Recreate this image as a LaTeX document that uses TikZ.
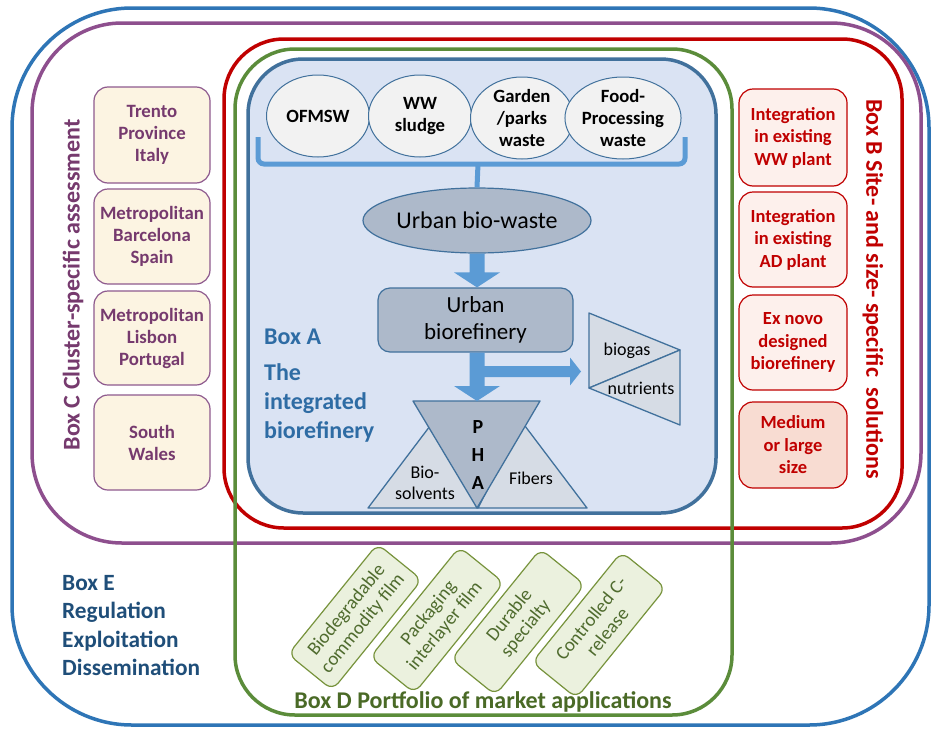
\documentclass[tikz,border=0pt]{standalone}
\usepackage{fontspec}
\setmainfont{Carlito}
\usetikzlibrary{shapes.geometric,calc}
\definecolor{outerblue}{HTML}{2E75B6}
\definecolor{purp}{HTML}{8E4F8E}
\definecolor{dred}{HTML}{C00000}
\definecolor{grn}{HTML}{5B8C3A}
\definecolor{boxastroke}{HTML}{41719C}
\definecolor{boxafill}{HTML}{DAE3F3}
\definecolor{midgray}{HTML}{ADB9CA}
\definecolor{lightgb}{HTML}{D6DCE5}
\definecolor{srcfill}{HTML}{F2F2F2}
\definecolor{arrowblue}{HTML}{5B9BD5}
\definecolor{boxatext}{HTML}{2E6CA4}
\definecolor{boxetext}{HTML}{1F4E79}
\definecolor{cfill}{HTML}{FCF4E2}
\definecolor{cstroke}{HTML}{8E5A8E}
\definecolor{ctext}{HTML}{763A6E}
\definecolor{bfill}{HTML}{FDF0EC}
\definecolor{bfilldark}{HTML}{F8DCD2}
\definecolor{dfill}{HTML}{EBF1DE}
\definecolor{dstroke}{HTML}{77933C}
\definecolor{dtext}{HTML}{4F6B2E}
\definecolor{dlabel}{HTML}{4A6A26}
\begin{document}
\begin{tikzpicture}[x=1pt,y=-1pt,
  bigframe/.style={draw, line width=3.5pt, rounded corners=#1, inner sep=0pt, fill=none},
  cbox/.style={draw=cstroke, fill=cfill, line width=1.2pt, rounded corners=14pt, minimum width=116pt, minimum height=95pt, align=center, text=ctext, font=\fontsize{18.8}{22}\selectfont\bfseries, inner sep=0pt},
  bbox/.style={draw=dred, fill=bfill, line width=1.2pt, rounded corners=14pt, minimum width=108pt, minimum height=95pt, align=center, text=dred, font=\fontsize{18.5}{22.5}\selectfont\bfseries, inner sep=0pt},
  dbox/.style={draw=dstroke, fill=dfill, line width=1.2pt, rounded corners=9pt, minimum width=142pt, minimum height=57pt, align=center, text=dtext, font=\fontsize{19}{21}\selectfont, inner sep=0pt, rotate=51},
  src/.style={ellipse, draw=boxastroke, fill=srcfill, line width=1pt, minimum width=103pt, minimum height=82pt, inner sep=0pt, align=center, font=\fontsize{18.7}{22}\selectfont\bfseries},
  tri/.style={draw=boxastroke, line width=1.3pt, line join=round},
  trilabel/.style={font=\fontsize{18}{21}\selectfont, align=center, inner sep=0pt}
]
\useasboundingbox (0,0) rectangle (931,728);
\fill[white] (0,0) rectangle (931,728);

% frames
\node[bigframe=120pt, draw=outerblue, minimum width=917pt, minimum height=717pt] (frameE) at (470.5,366.5) {};
\node[bigframe=90pt, draw=purp, minimum width=889pt, minimum height=520pt] (frameC) at (476.5,283) {};
\node[bigframe=60pt, draw=dred, minimum width=678pt, minimum height=489pt] (frameB) at (563,283.5) {};
\node[bigframe=60pt, draw=grn, minimum width=497pt, minimum height=666pt] (frameD) at (483.5,382) {};
\node[bigframe=55pt, draw=boxastroke, fill=boxafill, minimum width=468pt, minimum height=454pt] (frameA) at (482,286) {};

% Box C
\node[cbox, minimum height=96pt] (c1) at (152,135) {Trento\\Province\\Italy};
\node[cbox] (c2) at (152,236.5) {Metropolitan\\Barcelona\\Spain};
\node[cbox, minimum height=94pt] (c3) at (152,338) {Metropolitan\\Lisbon\\Portugal};
\node[cbox] (c4) at (152,442.5) {South\\Wales};
\node[rotate=90, text=ctext, font=\fontsize{24}{28}\selectfont\bfseries, inner sep=0pt] (labC) at (73,285) {Box C Cluster-specific assessment};

% Box B
\node[bbox, minimum height=97pt] (b1) at (793,137.5) {Integration\\in existing\\WW plant};
\node[bbox] (b2) at (793,239.5) {Integration\\in existing\\AD plant};
\node[bbox] (b3) at (793,342.5) {Ex novo\\designed\\biorefinery};
\node[bbox, fill=bfilldark, minimum height=86pt] (b4) at (793,445) {Medium\\or large\\size};
\node[rotate=-90, text=dred, font=\fontsize{24}{28}\selectfont\bfseries, inner sep=0pt] (labB) at (873,289) {Box B Site- and size- specific\ \ solutions};

% Box E
\node[anchor=west, align=left, text=boxetext, font=\fontsize{23.3}{28.5}\selectfont\bfseries, inner sep=0pt] (labE) at (62,625.5) {Box E\\Regulation\\Exploitation\\Dissemination};

% Box D
\node[dbox] (d1) at (355,617) {Biodegradable\\commodity film};
\node[dbox] (d2) at (437,620) {Packaging\\interlayer film};
\node[dbox] (d3) at (518,622) {Durable\\specialty};
\node[dbox] (d4) at (599,625) {Controlled C-\\release};
\node[text=dlabel, font=\fontsize{24}{28}\selectfont\bfseries, inner sep=0pt] (labD) at (483,702) {Box D Portfolio of market applications};

% Box A label
\node[anchor=west, align=left, text=boxatext, font=\fontsize{24}{29}\selectfont\bfseries, inner sep=0pt] (labA) at (264,386) {Box A\\[7pt]The\\integrated\\biorefinery};

% sources
\node[src] (s1) at (318,116) {OFMSW};
\node[src] (s2) at (420,116) {WW\\sludge};
\node[src] (s3) at (522,118) {Garden\\/parks\\waste};
\node[src] (s4) at (623,118) {Food-\\Processing\\waste};

% urban bio-waste
\node[ellipse, draw=boxastroke, fill=midgray, line width=1.2pt, minimum width=190pt, minimum height=65pt, inner sep=0pt, font=\fontsize{24}{28}\selectfont] (ubw) at (477,220.5) {Urban bio-waste};

% bracket
\draw[arrowblue, line width=5pt, rounded corners=6pt] (258,137) -- (258,164) -- (685,164) -- (685,137);
\draw[arrowblue, line width=5pt] (478,164) -- (ubw.north);

% urban biorefinery
\node[draw=boxastroke, fill=midgray, line width=1.2pt, rounded corners=12pt, minimum width=195pt, minimum height=64pt, align=center, inner sep=0pt, font=\fontsize{23}{27}\selectfont] (ubr) at (475.5,320) {Urban\\biorefinery};

% side triangles and PHA
\draw[tri, fill=lightgb] (368,508) -- (433,422) -- (478,508) -- cycle;
\draw[tri, fill=lightgb] (478,508) -- (522,422) -- (587,508) -- cycle;
\coordinate (phatop) at (477,401);
\draw[tri, fill=midgray] (413,401) -- (540,401) -- (477,508) -- cycle;
\node[font=\fontsize{20}{24}\selectfont\bfseries, inner sep=0pt] (pP) at (478,427) {P};
\node[font=\fontsize{20}{24}\selectfont\bfseries, inner sep=0pt] (pH) at (478,455) {H};
\node[font=\fontsize{20}{24}\selectfont\bfseries, inner sep=0pt] (pA) at (478,483) {A};
\node[trilabel] (bios) at (425,482.5) {Bio-\\solvents};
\node[trilabel] (fib) at (531,478) {Fibers};

% biogas / nutrients
\draw[tri, fill=lightgb] (589,313) -- (680,350) -- (589,388) -- cycle;
\draw[tri, fill=lightgb] (589,388) -- (680,350) -- (680,425) -- cycle;
\node[trilabel] (bg) at (627,351) {biogas};
\node[trilabel] (nu) at (641,388) {nutrients};

% block arrows
\fill[arrowblue] let \p1=(ubw.south), \p2=(ubr.north) in
  (\x1-7.5pt,\y1) -- (\x1-7.5pt,\y2+15pt) -- (\x1-23pt,\y2+15pt) -- (\x1,\y2) -- (\x1+23pt,\y2+15pt) -- (\x1+7.5pt,\y2+15pt) -- (\x1+7.5pt,\y1) -- cycle;
\coordinate (branch) at (484,371.5);
\coordinate (bgin) at (581,371.5);
\fill[arrowblue] let \p1=(branch), \p2=(bgin) in
  (\x1,\y1+5.5pt) -- (\x2-11pt,\y1+5.5pt) -- (\x2-11pt,\y1+14pt) -- (\x2,\y1) -- (\x2-11pt,\y1-14pt) -- (\x2-11pt,\y1-5.5pt) -- (\x1,\y1-5.5pt) -- cycle;
\fill[arrowblue] let \p1=(ubr.south), \p2=(phatop) in
  (\x2-7.5pt,\y1) -- (\x2-7.5pt,\y2+15pt) -- (\x2-23pt,\y2+15pt) -- (\x2,\y2) -- (\x2+23pt,\y2+15pt) -- (\x2+7.5pt,\y2+15pt) -- (\x2+7.5pt,\y1) -- cycle;
\end{tikzpicture}
\end{document}
